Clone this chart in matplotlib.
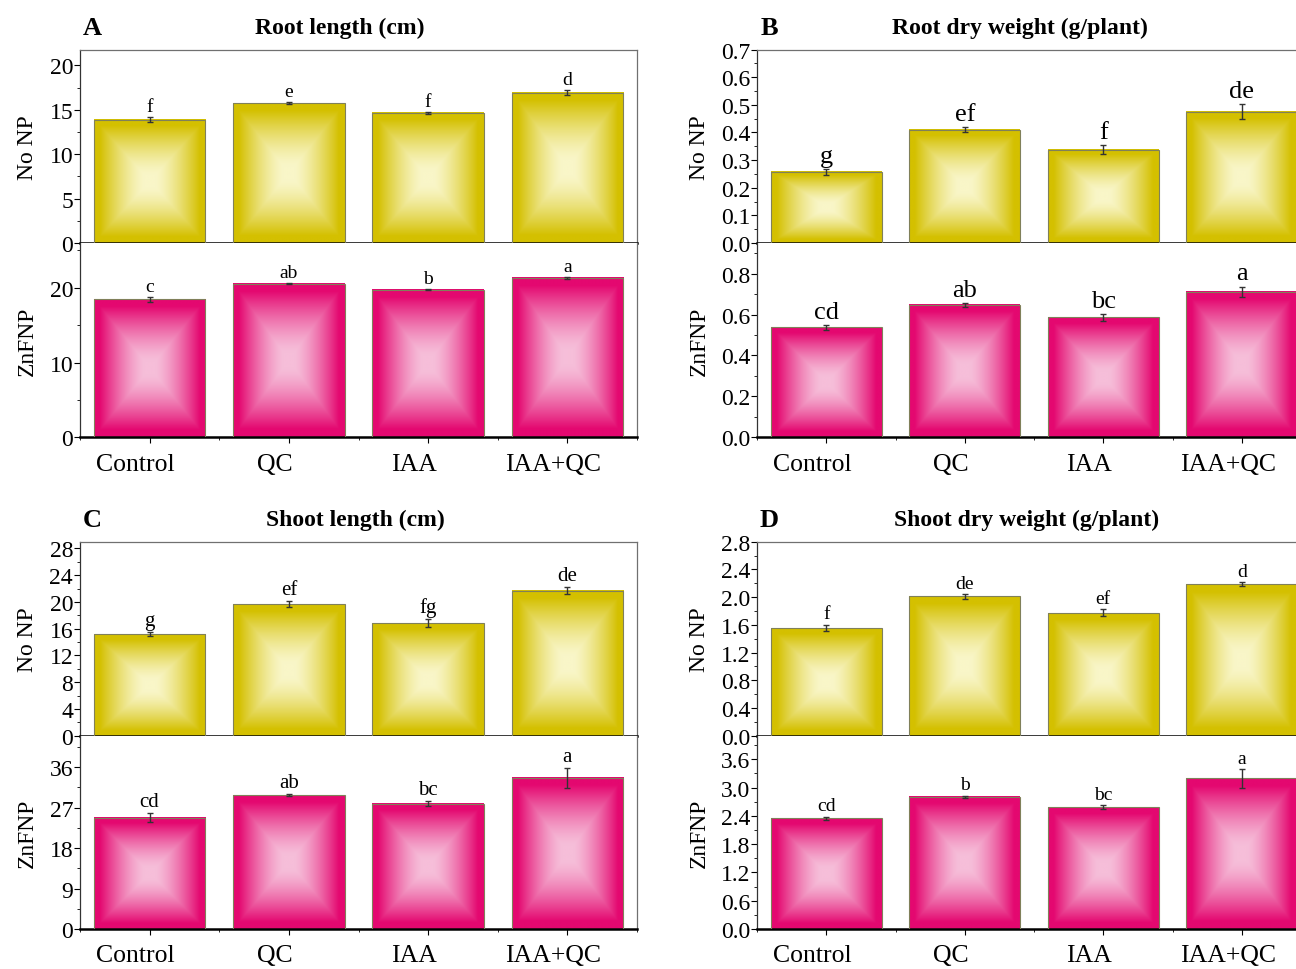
import numpy as np
import matplotlib
matplotlib.use("Agg")
import matplotlib.pyplot as plt
from matplotlib.ticker import MultipleLocator, AutoMinorLocator
import matplotlib.transforms as mtransforms

plt.rcParams['font.family'] = ['Liberation Serif', 'DejaVu Serif']

treatments = ['Control', 'QC', 'IAA', 'IAA+QC']

# A - root length (cm)
root_len_nonp = [13.9, 15.75, 14.65, 16.95]
root_len_nonp_err = [0.3, 0.1, 0.1, 0.3]
root_len_nonp_sig = ['f', 'e', 'f', 'd']
root_len_zn = [18.45, 20.55, 19.75, 21.3]
root_len_zn_err = [0.3, 0.1, 0.1, 0.1]
root_len_zn_sig = ['c', 'ab', 'b', 'a']

# B - root dry weight (g/plant)
root_dw_nonp = [0.257, 0.41, 0.338, 0.475]
root_dw_nonp_err = [0.011, 0.01, 0.017, 0.027]
root_dw_nonp_sig = ['g', 'ef', 'f', 'de']
root_dw_zn = [0.537, 0.647, 0.586, 0.712]
root_dw_zn_err = [0.01, 0.01, 0.015, 0.025]
root_dw_zn_sig = ['cd', 'ab', 'bc', 'a']

# C - shoot length (cm)
shoot_len_nonp = [15.2, 19.7, 16.8, 21.7]
shoot_len_nonp_err = [0.3, 0.4, 0.6, 0.5]
shoot_len_nonp_sig = ['g', 'ef', 'fg', 'de']
shoot_len_zn = [24.8, 29.8, 27.9, 33.6]
shoot_len_zn_err = [0.9, 0.2, 0.5, 2.2]
shoot_len_zn_sig = ['cd', 'ab', 'bc', 'a']

# D - shoot dry weight (g/plant)
shoot_dw_nonp = [1.555, 2.01, 1.775, 2.185]
shoot_dw_nonp_err = [0.05, 0.04, 0.05, 0.03]
shoot_dw_nonp_sig = ['f', 'de', 'ef', 'd']
shoot_dw_zn = [2.345, 2.80, 2.58, 3.20]
shoot_dw_zn_err = [0.04, 0.03, 0.04, 0.2]
shoot_dw_zn_sig = ['cd', 'b', 'bc', 'a']

YELLOW_DARK = np.array([212, 192, 0]) / 255
YELLOW_LIGHT = np.array([249, 246, 200]) / 255
PINK_DARK = np.array([228, 8, 112]) / 255
PINK_LIGHT = np.array([246, 190, 217]) / 255

W, H = 1296, 970
fig = plt.figure(figsize=(W / 100, H / 100), dpi=100)


def px_axes(left, top, right, bottom):
    return fig.add_axes([left / W, 1 - bottom / H, (right - left) / W, (bottom - top) / H])


def grad_img(dark, light, n=160):
    # light centre fading to a dark rim, rectangular ("pyramid") shading
    u = np.linspace(-1, 1, n)
    U, V = np.meshgrid(u, u)
    t = np.maximum(np.abs(U), np.abs(V))
    s = np.clip((t - 0.1) / 0.8, 0, 1) ** 1.4
    return light[None, None, :] * (1 - s[..., None]) + dark[None, None, :] * s[..., None]


def draw_bars(ax, vals, errs, sig, dark, light, ylim, major, sig_size, fs_tick=17):
    x = np.arange(len(treatments))
    img = grad_img(dark, light)
    bars = ax.bar(x, vals, width=0.8, facecolor='none', edgecolor='#80805a', lw=0.8, zorder=3)
    for b in bars:
        ax.imshow(img, extent=(b.get_x(), b.get_x() + b.get_width(), 0, b.get_height()),
                  aspect='auto', zorder=2, interpolation='bilinear')
    ax.errorbar(x, vals, yerr=errs, fmt='none', ecolor='#333333', elinewidth=1,
                capsize=2, capthick=1, zorder=4)
    for xi, v, e, s in zip(x, vals, errs, sig):
        ax.annotate(s, (xi, v + e), xytext=(0, 1.5), textcoords='offset points',
                    ha='center', va='bottom', fontsize=sig_size, zorder=5)
    ax.set_xlim(-0.5, 3.5)
    ax.set_ylim(*ylim)
    ax.yaxis.set_major_locator(MultipleLocator(major))
    ax.yaxis.set_minor_locator(AutoMinorLocator(2))
    ax.tick_params(axis='y', which='major', direction='out', length=4, width=0.8,
                   labelsize=fs_tick, pad=1)
    ax.tick_params(axis='y', which='minor', direction='out', length=2, width=0.6)
    for s in ax.spines.values():
        s.set_color('#707070')
        s.set_linewidth(0.9)
    ax.spines['left'].set_color('#333333')
    ax.spines['bottom'].set_color('black')
    ax.spines['bottom'].set_linewidth(1.8)


def panel(left, right, top, mid, bottom, letter, title, title_x,
          top_vals, top_err, top_sig, top_ylim, top_major, top_fmt,
          bot_vals, bot_err, bot_sig, bot_ylim, bot_major, bot_fmt,
          sig_top, sig_bot, ylab_x):
    ax1 = px_axes(left, top, right, mid)
    ax2 = px_axes(left, mid, right, bottom)
    draw_bars(ax1, top_vals, top_err, top_sig, YELLOW_DARK, YELLOW_LIGHT, top_ylim, top_major, sig_top)
    draw_bars(ax2, bot_vals, bot_err, bot_sig, PINK_DARK, PINK_LIGHT, bot_ylim, bot_major, sig_bot)
    ax1.set_xticks([])
    ax2.spines['top'].set_visible(False)
    ax1.yaxis.set_major_formatter(top_fmt)
    ax2.yaxis.set_major_formatter(bot_fmt)
    ax2.set_xticks(np.arange(len(treatments)))
    ax2.set_xticklabels(treatments, fontsize=18.5)
    ax2.xaxis.set_minor_locator(MultipleLocator(0.5))
    ax2.tick_params(axis='x', which='major', direction='out', length=4, width=0.8, pad=7)
    ax2.tick_params(axis='x', which='minor', direction='out', length=2, width=0.6)
    shift = mtransforms.ScaledTranslation(-14 / 100, 0, fig.dpi_scale_trans)
    for lab in ax2.get_xticklabels():
        lab.set_transform(lab.get_transform() + shift)
    ax1.set_ylabel('No NP', fontsize=17)
    ax2.set_ylabel('ZnFNP', fontsize=17)
    ax1.yaxis.set_label_coords((ylab_x - left) / (right - left), 0.5)
    ax2.yaxis.set_label_coords((ylab_x - left) / (right - left), 0.5)
    fig.text((left + 12) / W, 1 - (top - 22) / H, letter, fontsize=19, fontweight='bold',
             ha='center', va='center')
    fig.text(title_x / W, 1 - (top - 22) / H, title, fontsize=17, fontweight='bold',
             ha='center', va='center')


fmt_int = '{x:.0f}'
fmt_1 = '{x:.1f}'

panel(80, 637, 50.5, 244, 438.3, 'A', 'Root length (cm)', 340,
      root_len_nonp, root_len_nonp_err, root_len_nonp_sig, (0, 21.8), 5, fmt_int,
      root_len_zn, root_len_zn_err, root_len_zn_sig, (0, 26), 10, fmt_int,
      14, 14, 38)

panel(757, 1311, 50.5, 244, 438.3, 'B', 'Root dry weight (g/plant)', 1020,
      root_dw_nonp, root_dw_nonp_err, root_dw_nonp_sig, (0, 0.7001), 0.1, fmt_1,
      root_dw_zn, root_dw_zn_err, root_dw_zn_sig, (0, 0.95), 0.2, fmt_1,
      19, 19, 710)

panel(80, 637, 542.7, 736.7, 930, 'C', 'Shoot length (cm)', 355,
      shoot_len_nonp, shoot_len_nonp_err, shoot_len_nonp_sig, (0, 29), 4, fmt_int,
      shoot_len_zn, shoot_len_zn_err, shoot_len_zn_sig, (0, 43), 9, fmt_int,
      15, 15, 38)

panel(757, 1311, 542.7, 736.7, 930, 'D', 'Shoot dry weight (g/plant)', 1027,
      shoot_dw_nonp, shoot_dw_nonp_err, shoot_dw_nonp_sig, (0, 2.801), 0.4, fmt_1,
      shoot_dw_zn, shoot_dw_zn_err, shoot_dw_zn_sig, (0, 4.1), 0.6, fmt_1,
      14, 14, 710)

fig.savefig('out.png', dpi=100)
